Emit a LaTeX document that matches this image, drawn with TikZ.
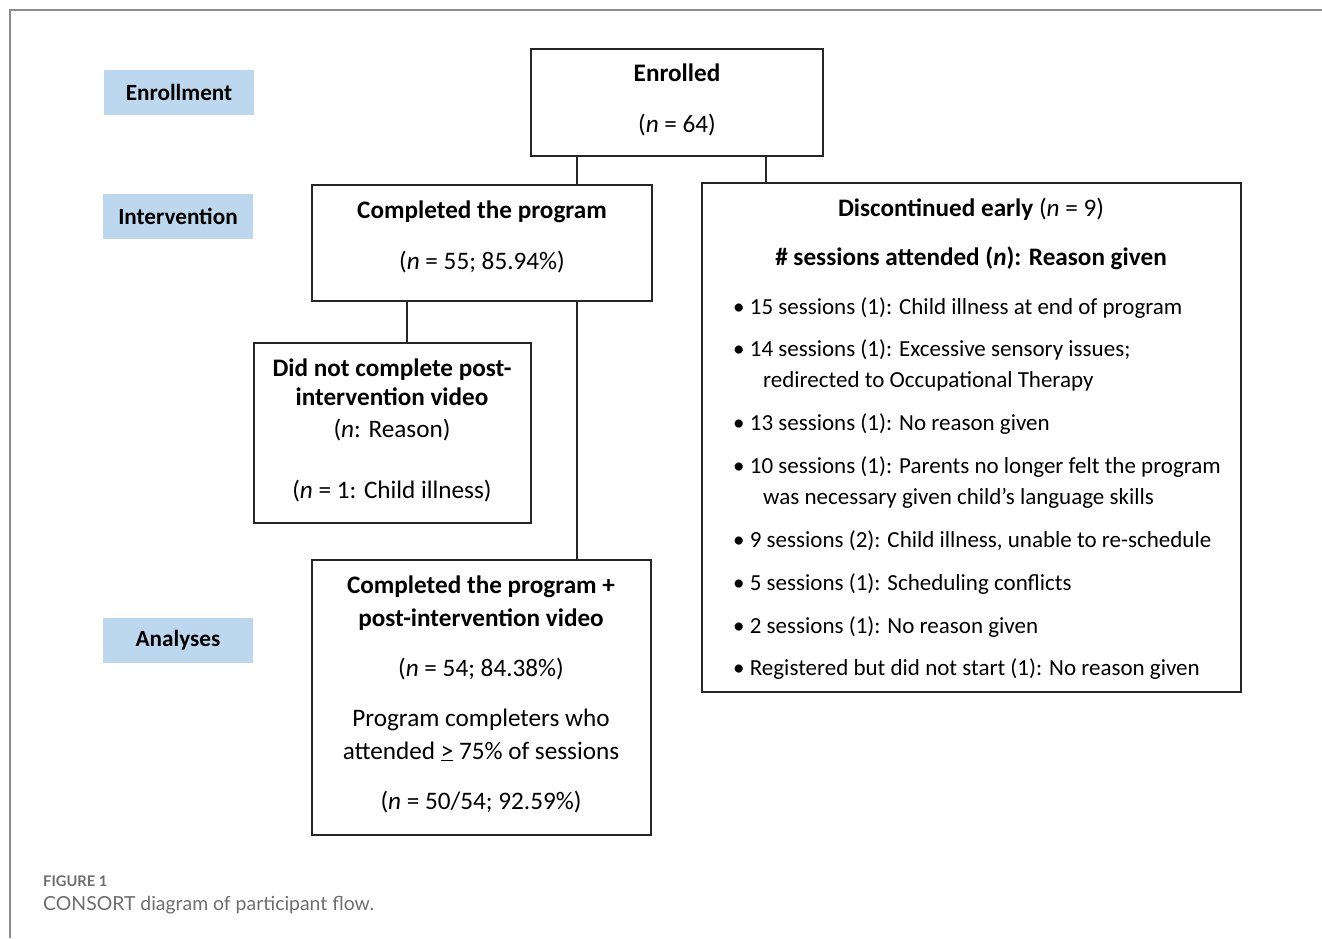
\documentclass[tikz,border=0pt]{standalone}
\usepackage{fontspec}
\setmainfont{Carlito}
\newfontfamily\capfont{Lato}
\definecolor{lblue}{HTML}{BDD7EE}
\definecolor{framegray}{HTML}{8C8C8C}
\definecolor{capgray}{HTML}{6E6E6E}
\begin{document}
\begin{tikzpicture}[x=1pt,y=-1pt,
  box/.style={draw=black!85, line width=1.4pt, inner sep=0pt},
  lbl/.style={fill=lblue, inner sep=0pt, minimum width=150pt, minimum height=45pt, font=\fontsize{23.2}{27}\selectfont\bfseries},
  txt/.style={inner sep=0pt, anchor=base, font=\fontsize{25.2}{29}\selectfont},
  btxt/.style={inner sep=0pt, anchor=base, font=\fontsize{25.2}{29}\selectfont\bfseries},
  ltxt/.style={inner sep=0pt, anchor=base west, font=\fontsize{23}{27}\selectfont},
  conn/.style={draw=black!85, line width=1.4pt}]
\useasboundingbox (0,0) rectangle (1322,938);
\draw[framegray, line width=1.2pt] (1322,10) -- (10,10) -- (10,938);

% stage labels
\node[lbl] (lenr) at (179,92.5) {Enrollment};
\node[lbl] (lint) at (178,216.5) {Intervention};
\node[lbl] (lana) at (178,640.5) {Analyses};

% boxes
\node[box, minimum width=292pt, minimum height=107pt] (enr) at (677,102.5) {};
\node[box, minimum width=340pt, minimum height=116pt] (comp) at (482,243) {};
\node[box, minimum width=539pt, minimum height=509pt] (disc) at (971.5,437.5) {};
\node[box, minimum width=277pt, minimum height=180pt] (dnc) at (392.5,433) {};
\node[box, minimum width=339pt, minimum height=275pt] (fin) at (481.5,697.5) {};

% connector x-positions
\coordinate (xa) at (577,0);
\coordinate (xb) at (766,0);
\coordinate (xc) at (407,0);
\draw[conn] (enr.south -| xa) -- (comp.north -| xa);
\draw[conn] (enr.south -| xb) -- (disc.north -| xb);
\draw[conn] (comp.south -| xc) -- (dnc.north -| xc);
\draw[conn] (comp.south -| xa) -- (fin.north -| xa);

% Enrolled
\node[btxt] (t1) at (677,81) {Enrolled};
\node[txt] (t2) at (677,132) {(\textit{n} = 64)};

% Completed
\node[btxt] (t3) at (482,218) {Completed the program};
\node[txt] (t4) at (482,269) {(\textit{n} = 55; 85.94\%)};

% Did not complete
\node[btxt] (t5) at (392,376) {Did not complete post-};
\node[btxt] (t6) at (392,405) {intervention video};
\node[txt] (t7) at (392,437) {(\textit{n}: Reason)};
\node[txt] (t8) at (392,498) {(\textit{n} = 1: Child illness)};

% Final
\node[btxt] (t9) at (481,593) {Completed the program +};
\node[btxt] (t10) at (481,626) {post-intervention video};
\node[txt] (t11) at (481,676) {(\textit{n} = 54; 84.38\%)};
\node[txt] (t12) at (481,726) {Program completers who};
\node[txt] (t13) at (481,759) {attended \underline{>} 75\% of sessions};
\node[txt] (t14) at (481,809) {(\textit{n} = 50/54; 92.59\%)};

% Discontinued
\node[btxt] (d0) at (971,216) {Discontinued early \mdseries(\textit{n} = 9)};
\node[btxt] (d1) at (971,265) {\# sessions attended (\textit{n}): Reason given};
\node[ltxt] (d2) at (733,314) {• 15 sessions (1): Child illness at end of program};
\node[ltxt] (d3) at (733,356) {• 14 sessions (1): Excessive sensory issues;};
\node[ltxt] (d3b) at (763,387) {redirected to Occupational Therapy};
\node[ltxt] (d4) at (733,430) {• 13 sessions (1): No reason given};
\node[ltxt] (d5) at (733,473) {• 10 sessions (1): Parents no longer felt the program};
\node[ltxt] (d5b) at (763,504) {was necessary given child’s language skills};
\node[ltxt] (d6) at (733,547) {• 9 sessions (2): Child illness, unable to re-schedule};
\node[ltxt] (d7) at (733,590) {• 5 sessions (1): Scheduling conflicts};
\node[ltxt] (d8) at (733,633) {• 2 sessions (1): No reason given};
\node[ltxt] (d9) at (733,675) {• Registered but did not start (1): No reason given};

% caption
\node[inner sep=0pt, anchor=base west, text=capgray, font=\capfont\fontsize{14.7}{17}\selectfont\bfseries] (cap1) at (43,886) {FIGURE 1};
\node[inner sep=0pt, anchor=base west, text=capgray, font=\capfont\fontsize{19.4}{22}\selectfont] (cap2) at (43,910) {CONSORT diagram of participant flow.};
\end{tikzpicture}
\end{document}
